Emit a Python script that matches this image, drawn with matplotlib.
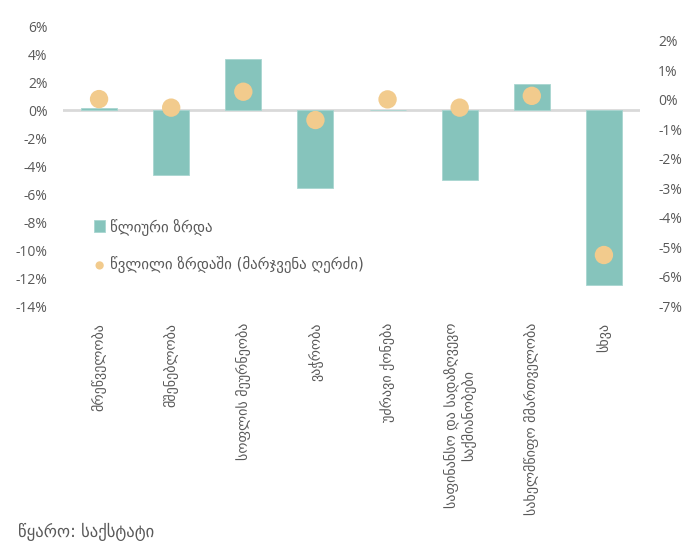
import numpy as np
import matplotlib.pyplot as plt
from matplotlib.ticker import FuncFormatter

plt.rcParams['font.family'] = ['Open Sans', 'DejaVu Sans']

categories = ['მრეწველობა', 'მშენებლობა', 'სოფლის მეურნეობა', 'ვაჭრობა',
              'უძრავი ქონება', 'საფინანსო და სადაზღვევო\nსაქმიანობები',
              'სახელმწიფო მმართველობა', 'სხვა']
annual_growth = [0.14, -4.65, 3.66, -5.6, 0.0, -5.0, 1.84, -12.5]
contribution = [0.02, -0.27, 0.27, -0.69, 0.01, -0.27, 0.13, -5.27]

bar_label = 'წლიური ზრდა'
dot_label = 'წვლილი ზრდაში (მარჯვენა ღერძი)'
source = 'წყარო: საქსტატი'

teal = '#86C4BC'
orange = '#F2CB8D'
grey = '#595959'

fig = plt.figure(figsize=(6.94, 5.45), dpi=100)
ax = fig.add_axes([63 / 694, 1 - 306 / 545, 577 / 694, 280 / 545])
ax2 = ax.twinx()

x = np.arange(len(categories))
ax.bar(x, annual_growth, width=0.5, color=teal, edgecolor='#A8D6D0',
       linewidth=0.6, label=bar_label, zorder=2)
ax.axhline(0, color='#D9D9D9', linewidth=2, zorder=1)
ax2.scatter(x, contribution, s=175, color=orange, edgecolor='none',
            label=dot_label, zorder=3)

ax.set_xlim(-0.5, len(categories) - 0.5)
ax.set_ylim(-14, 6)
ax.set_yticks(np.arange(-14, 7, 2))
ax2.set_ylim(-7, 2.5)
ax2.set_yticks(np.arange(-7, 3, 1))

pct = FuncFormatter(lambda v, p: f'{v:.0f}%')
ax.yaxis.set_major_formatter(pct)
ax2.yaxis.set_major_formatter(pct)

ax.set_xticks(x)
ax.set_xticklabels(categories, rotation=90, ha='center', va='top',
                   multialignment='center', fontsize=10.2, color=grey,
                   family=['DejaVu Sans'])
ax.tick_params(axis='x', length=0, pad=12)
ax.tick_params(axis='y', length=0, pad=11, labelsize=10, labelcolor=grey)
ax2.tick_params(axis='y', length=0, pad=13, labelsize=10, labelcolor=grey)

for a in (ax, ax2):
    for s in a.spines.values():
        s.set_visible(False)

h1, l1 = ax.get_legend_handles_labels()
h2, l2 = ax2.get_legend_handles_labels()
leg = ax2.legend(h1 + h2, l1 + l2, loc='upper left',
                 bbox_to_anchor=(0.03, 0.36), frameon=False,
                 labelspacing=1.4, handlelength=0.8,
                 handletextpad=0.3, markerscale=0.45,
                 prop={'family': ['DejaVu Sans'], 'size': 10.7})
for t in leg.get_texts():
    t.set_color(grey)
leg.legend_handles[0].set_height(8)
leg.legend_handles[0].set_width(8)

fig.text(18 / 694, 1 - 532 / 545, source, fontsize=12, color=grey,
         va='center', ha='left', family=['DejaVu Sans'])

fig.savefig('out.png', dpi=100)
